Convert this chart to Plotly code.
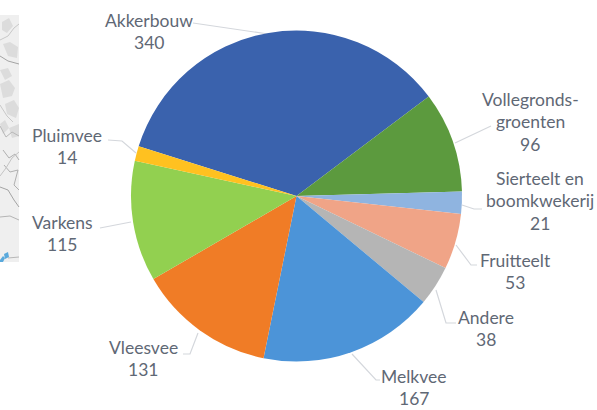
import plotly.graph_objects as go

categories = ["Akkerbouw", "Vollegrondsgroenten", "Sierteelt en boomkwekerij", "Fruitteelt",
              "Andere", "Melkvee", "Vleesvee", "Varkens", "Pluimvee"]
values = [340, 96, 21, 53, 38, 167, 131, 115, 14]
colors = ["#3a62ad", "#5c9a3e", "#8fb4e0", "#f0a487", "#b5b5b5", "#4c94d8", "#f07c26", "#92d050", "#ffc120"]
label_lines = [["Akkerbouw"], ["Vollegronds-", "groenten"], ["Sierteelt en", "boomkwekerij"], ["Fruitteelt"],
               ["Andere"], ["Melkvee"], ["Vleesvee"], ["Varkens"], ["Pluimvee"]]

W, H = 597, 410
CX, CY, R = 296.5, 196, 165.5
INK = "#5f6875"
LEADER = "#d4d7dc"

# Label anchors in pixels: centre x and first line centre y
label_pos = [(149, 20), (530, 99), (540, 178), (515, 260), (486, 317), (414, 376), (143, 347), (62, 222), (67, 135)]
LINE_STEP = 22.5

# Leader polylines in pixels
leaders = [
    [(193, 23), (268, 34)],
    [(455, 143), (491, 126)],
    [(462, 205), (474, 209), (482, 209)],
    [(456, 245), (471, 265), (477, 265)],
    [(436, 290), (446, 323), (456, 323)],
    [(352, 354), (376, 380), (380, 380)],
    [(198, 333), (190, 354), (183, 354)],
    [(131, 222), (100, 228)],
    [(136, 153), (122, 141), (108, 140)],
]

# Grey street-map sliver on the left edge
MAP_RIGHT, MAP_TOP, MAP_BOTTOM = 19, 15, 262
map_blobs = [
    [(2, 22), (9, 18), (13, 26), (7, 33), (2, 30)],
    [(3, 44), (10, 42), (18, 47), (17, 58), (8, 56)],
    [(0, 70), (8, 68), (12, 76), (5, 80)],
    [(0, 84), (9, 80), (15, 88), (12, 96), (3, 98)],
    [(5, 104), (14, 100), (19, 108), (16, 118), (7, 114)],
    [(0, 124), (5, 120), (9, 128), (3, 134)],
    [(9, 128), (19, 124), (19, 136), (12, 138)],
]
map_roads = [
    [(0, 56), (8, 61), (19, 64)],
    [(0, 126), (6, 137), (12, 132), (19, 136)],
    [(3, 150), (9, 158), (15, 154), (19, 160)],
    [(4, 165), (10, 172), (18, 170), (14, 185), (19, 190)],
    [(0, 187), (8, 190), (14, 200), (19, 207)],
    [(0, 217), (10, 216), (19, 220)],
    [(0, 176), (6, 168), (12, 158), (19, 152)],
    [(0, 40), (8, 36), (14, 28), (19, 24)],
    [(0, 105), (7, 116), (13, 122)],
    [(8, 258), (19, 257)],
]
ROAD_COLORS = ["#a4a4a4", "#b8b8b8", "#b0b0b0", "#b0b0b0", "#a4a4a4", "#b4b4b4", "#c4c4c4", "#c8c8c8", "#c8c8c8", "#b8b8b8"]
map_water = [
    [(0, 260), (3, 256), (5, 258), (3, 262), (0, 262)],
    [(4, 254), (8, 252), (9, 257), (5, 259)],
]


def px(x):
    return x / W


def py(y):
    return 1 - y / H


def path(points, closed=False):
    return "M " + " L ".join(f"{x},{y}" for x, y in points) + (" Z" if closed else "")


shapes = [dict(type="rect", xref="x", yref="y", x0=0, x1=MAP_RIGHT, y0=MAP_TOP, y1=MAP_BOTTOM,
               fillcolor="#efefef", line_width=0, layer="below")]
for blob in map_blobs:
    shapes.append(dict(type="path", xref="x", yref="y", path=path(blob, True),
                       fillcolor="#dcdcdc", line_width=0, layer="below"))
for road, road_color in zip(map_roads, ROAD_COLORS):
    shapes.append(dict(type="path", xref="x", yref="y", path=path(road),
                       line=dict(color=road_color, width=1), layer="below"))
for water in map_water:
    shapes.append(dict(type="path", xref="x", yref="y", path=path(water, True),
                       fillcolor="#5aa9dc", line_width=0, layer="below"))
for pts in leaders:
    shapes.append(dict(type="path", xref="x", yref="y", path=path(pts),
                       line=dict(color=LEADER, width=1.2), layer="below"))

annotations = []
for lines, value, (x, y) in zip(label_lines, values, label_pos):
    for i, text in enumerate(lines + [str(value)]):
        annotations.append(dict(x=x, y=y + i * LINE_STEP, xref="x", yref="y", text=text, showarrow=False,
                                xanchor="center", yanchor="middle",
                                font=dict(family="Lato", size=17.5, color=INK)))

fig = go.Figure(go.Pie(
    labels=categories,
    values=values,
    sort=False,
    direction="clockwise",
    rotation=-72.5,
    marker=dict(colors=colors, line=dict(width=0)),
    textinfo="none",
    hoverinfo="label+value",
    showlegend=False,
    domain=dict(x=[px(CX - R), px(CX + R)], y=[py(CY + R), py(CY - R)]),
))
fig.update_layout(
    width=W, height=H,
    margin=dict(l=0, r=0, t=0, b=0),
    paper_bgcolor="white",
    plot_bgcolor="rgba(0,0,0,0)",
    xaxis=dict(range=[0, W], visible=False, fixedrange=True),
    yaxis=dict(range=[H, 0], visible=False, fixedrange=True),
    shapes=shapes,
    annotations=annotations,
)
fig.write_html("out.html")
